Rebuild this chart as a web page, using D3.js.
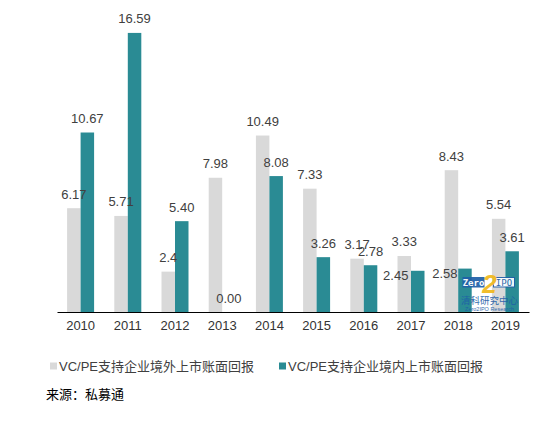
<!DOCTYPE html>
<html><head><meta charset="utf-8">
<script src="https://cdn.jsdelivr.net/npm/d3@7"></script>
<style>body{margin:0;background:#fff;} svg{display:block;font-family:"Liberation Sans",Arial,sans-serif;}</style>
</head><body>
<svg id="c" width="560" height="421"></svg>
<script>
const years = ["2010","2011","2012","2013","2014","2015","2016","2017","2018","2019"];
const seriesNames = ["VC/PE支持企业境外上市账面回报","VC/PE支持企业境内上市账面回报"];
const overseas = [6.17, 5.71, 2.4, 7.98, 10.49, 7.33, 3.17, 3.33, 8.43, 5.54];
const overseasLabels = ["6.17","5.71","2.4","7.98","10.49","7.33","3.17","3.33","8.43","5.54"];
const domestic = [10.67, 16.59, 5.40, 0.00, 8.08, 3.26, 2.78, 2.45, 2.58, 3.61];
const domesticLabels = ["10.67","16.59","5.40","0.00","8.08","3.26","2.78","2.45","2.58","3.61"];
const colors = ["#d9d9d9", "#2a8b94"];
const sourceText = "来源：私募通";

const svg = d3.select("#c");
const x = d3.scaleBand().domain(years).range([57, 529]).paddingInner(0.428).paddingOuter(0.214);
const xs = d3.scaleBand().domain([0,1]).range([0, x.bandwidth()]);
const y = d3.scaleLinear().domain([0, 18]).range([312, 9.2]);

const series = [overseas, domestic];
const labels = [overseasLabels, domesticLabels];
// manual label nudges (as in the original figure)
const nudge = {"1-7": [-22, 19], "1-8": [-20, 18.5]};

series.forEach((vals, s) => {
  svg.append("g").selectAll("rect").data(vals).join("rect")
    .attr("x", (d,i) => x(years[i]) + xs(s))
    .attr("width", xs.bandwidth())
    .attr("y", d => y(d))
    .attr("height", d => y(0) - y(d))
    .attr("fill", colors[s]);
});

// watermark logo
const logo = svg.append("g").attr("opacity", 0.92);
logo.append("rect").attr("x", 462.5).attr("y", 277).attr("width", 22).attr("height", 10.5).attr("fill", "#1f5fa8");
logo.append("text").attr("x", 473.5).attr("y", 285.5).attr("text-anchor","middle").attr("fill","#fff")
  .attr("font-family","DejaVu Sans Mono, monospace").attr("font-size", 9).attr("font-weight","bold").text("Zero");
logo.append("rect").attr("x", 493.5).attr("y", 277.5).attr("width", 21).attr("height", 9.5).attr("fill", "#fff").attr("stroke","#1f5fa8").attr("stroke-width",1);
logo.append("text").attr("x", 504).attr("y", 285.5).attr("text-anchor","middle").attr("fill","#1f5fa8")
  .attr("font-family","DejaVu Sans Mono, monospace").attr("font-size", 9).text("IPO");
logo.append("text").attr("x", 489.5).attr("y", 293).attr("text-anchor","middle").attr("fill","#f0b81c")
  .attr("font-size", 26).attr("font-weight","bold").attr("font-style","italic").text("2");
logo.append("text").attr("x", 489.5).attr("y", 303.5).attr("text-anchor","middle").attr("fill","#1f5fa8")
  .attr("font-family","Noto Sans CJK SC").attr("font-size", 9.5).text("清科研究中心");
logo.append("text").attr("x", 489.5).attr("y", 311).attr("text-anchor","middle").attr("fill","#1f5fa8")
  .attr("font-size", 5.5).text("Zero2IPO Research");

// value labels
series.forEach((vals, s) => {
  svg.append("g").selectAll("text").data(vals).join("text")
    .attr("x", (d,i) => x(years[i]) + xs(s) + xs.bandwidth()/2 + ((nudge[s+"-"+i]||[0,0])[0]))
    .attr("y", (d,i) => y(d) - 9.5 + ((nudge[s+"-"+i]||[0,0])[1]))
    .attr("text-anchor", "middle")
    .attr("font-size", 13)
    .attr("fill", "#404040")
    .text((d,i) => labels[s][i]);
});

// x axis
const xAxis = d3.axisBottom(x).tickSize(0).tickPadding(9);
const gx = svg.append("g").attr("transform", `translate(0,${y(0)})`).call(xAxis);
gx.select(".domain").attr("stroke", "#000").attr("stroke-width", 1.2);
gx.selectAll("text").attr("font-size", 13).attr("fill", "#333").attr("font-family", "Liberation Sans, Arial, sans-serif");

// legend
const lg = svg.append("g");
const legX = [50, 279];
seriesNames.forEach((n, s) => {
  lg.append("rect").attr("x", legX[s]).attr("y", 362.5).attr("width", 7).attr("height", 7).attr("fill", colors[s]);
  lg.append("text").attr("x", legX[s] + 9).attr("y", 371).attr("font-size", 13).attr("fill", "#404040")
    .attr("font-family", "Liberation Sans, Noto Sans CJK SC, sans-serif").text(n);
});

svg.append("text").attr("x", 46).attr("y", 399).attr("font-size", 13).attr("fill", "#000")
  .attr("font-family", "Noto Sans CJK SC, sans-serif").text(sourceText);
</script>
</body></html>
